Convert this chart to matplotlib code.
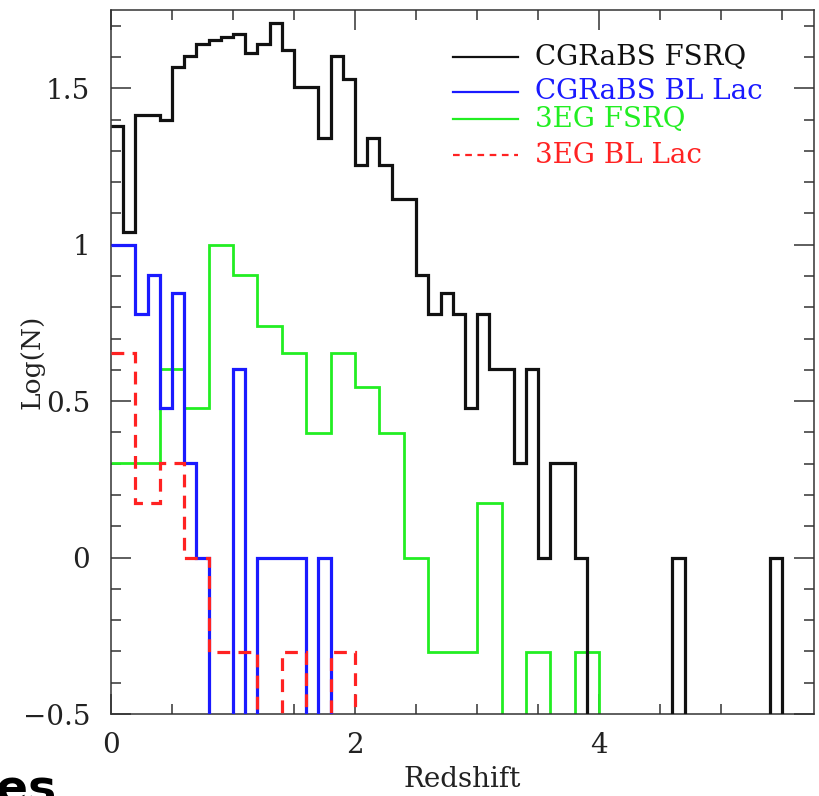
import numpy as np
import matplotlib
matplotlib.use("Agg")
import matplotlib.pyplot as plt
from matplotlib.ticker import MultipleLocator, FuncFormatter

# log10(N) per redshift bin; None = empty bin
cgrabs_fsrq = [1.380, 1.041, 1.415, 1.415, 1.398, 1.568, 1.602, 1.643, 1.653, 1.663,
               1.672, 1.613, 1.643, 1.708, 1.623, 1.505, 1.505, 1.342, 1.602, 1.531,
               1.255, 1.342, 1.255, 1.146, 1.146, 0.903, 0.778, 0.845, 0.778, 0.477,
               0.778, 0.602, 0.602, 0.301, 0.602, 0.0, 0.301, 0.301, 0.0, None,
               None, None, None, None, None, None, 0.0, None, None, None,
               None, None, None, None, 0.0, None]
cgrabs_bllac = [1.0, 1.0, 0.778, 0.903, 0.477, 0.845, 0.301, 0.0, None, None,
                0.602, None, 0.0, 0.0, 0.0, 0.0, None, 0.0, None]
egret_fsrq = [0.301, 0.301, 0.602, 0.477, 1.0, 0.903, 0.740, 0.653, 0.398, 0.653,
              0.544, 0.398, 0.0, -0.301, -0.301, 0.176, None, -0.301, None, -0.301, None]
egret_bllac = [0.653, 0.176, 0.301, 0.0, -0.301, -0.301, None, -0.301, None, -0.301, None]

labels = ["CGRaBS FSRQ", "CGRaBS BL Lac", "3EG FSRQ", "3EG BL Lac"]
colors = ["#111111", "#1a1aff", "#22ee22", "#ff2222"]

FLOOR = -1.0


def steps(vals, width):
    v = np.array([FLOOR if x is None else x for x in vals], dtype=float)
    edges = np.arange(len(v) + 1) * width
    return v, edges


fig = plt.figure(figsize=(8.19, 7.96), dpi=100)
ax = fig.add_axes([0.1355, 0.103, 0.8584, 0.8844])

serif = "DejaVu Serif"
lw = 2.3

v, e = steps(egret_fsrq, 0.2)
ax.stairs(v, e, baseline=None, color=colors[2], lw=2.0, zorder=2)
v, e = steps(cgrabs_bllac, 0.1)
ax.stairs(v, e, baseline=None, color=colors[1], lw=lw, zorder=3)
v, e = steps(cgrabs_fsrq, 0.1)
ax.stairs(v, e, baseline=None, color=colors[0], lw=lw, zorder=4)
v, e = steps(egret_bllac, 0.2)
ax.stairs(v, e, baseline=None, color=colors[3], lw=lw, linestyle=(0, (4, 2.6)), zorder=5)

ax.set_xlim(0, 5.76)
ax.set_ylim(-0.5, 1.75)

ax.xaxis.set_major_locator(MultipleLocator(2))
ax.xaxis.set_minor_locator(MultipleLocator(0.5))
ax.yaxis.set_major_locator(MultipleLocator(0.5))
ax.yaxis.set_minor_locator(MultipleLocator(0.1))
ax.yaxis.set_major_formatter(FuncFormatter(lambda y, p: "%g" % y if y >= 0 else "\u2212%g" % -y))

ax.tick_params(which="both", direction="in", top=True, right=True, color="#333333", width=1.1)
ax.tick_params(which="major", length=14.4)
ax.tick_params(which="minor", length=7.2)
ax.tick_params(axis="y", which="major", pad=15)
ax.tick_params(axis="x", which="major", pad=13)
for lab in ax.get_xticklabels() + ax.get_yticklabels():
    lab.set_family(serif)
    lab.set_fontsize(20)
    lab.set_color("#222222")
for s in ax.spines.values():
    s.set_color("#333333")
    s.set_linewidth(1.1)

ax.set_xlabel("Redshift", family=serif, fontsize=20, color="#222222", labelpad=5)
ax.set_ylabel("Log(N)", family=serif, fontsize=19, color="#222222")
ax.yaxis.set_label_coords(-0.094, 0.5)

# key drawn by hand, rows are not evenly spaced
rows = [0.933, 0.884, 0.845, 0.794]
for lab, c, y, ls in zip(labels, colors, rows, ["-", "-", "-", (0, (3, 2.5))]):
    ax.plot([0.4865, 0.579], [y, y], transform=ax.transAxes, color=c, lw=1.6, ls=ls)
    ax.text(0.603, y, lab, transform=ax.transAxes, color=c, family=serif,
            fontsize=20, va="center", ha="left")

fig.text(-0.005, -0.01, "es", family="DejaVu Sans", weight="bold", fontsize=34,
         ha="left", va="baseline", color="black")

fig.savefig("out.png", dpi=100)
